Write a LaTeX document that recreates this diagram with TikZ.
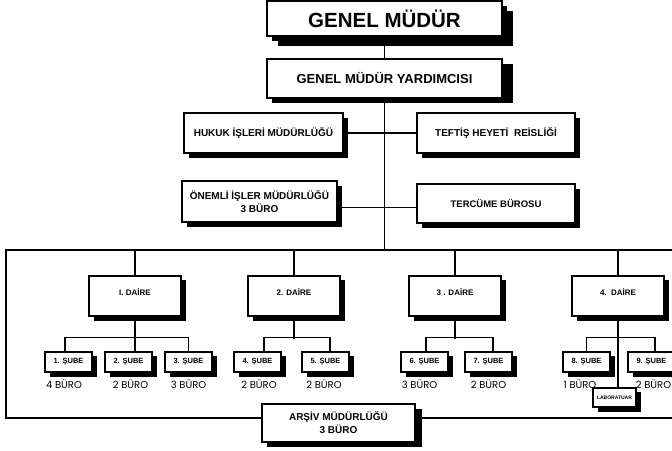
\documentclass[tikz,border=0pt]{standalone}
\usepackage{fontspec}
\setmainfont{Liberation Sans}
\newfontfamily\burofont{Poppins}
\usetikzlibrary{shadows,calc}
\pgfdeclarelayer{paper}
\pgfdeclarelayer{background}
\pgfsetlayers{paper,background,main}
\tikzset{
  orgbox/.style={draw, line width=1.1pt, fill=white, align=center, inner sep=0pt,
    font=\bfseries\fontsize{10}{13}\selectfont,
    drop shadow={shadow xshift=5pt, shadow yshift=-5pt, fill=black, opacity=1}},
  bigbox/.style={orgbox, minimum width=235pt},
  midbox/.style={orgbox, minimum height=40pt},
  dairebox/.style={orgbox, minimum width=92pt, minimum height=40pt,
    drop shadow={shadow xshift=5pt, shadow yshift=-4pt, fill=black, opacity=1}},
  subebox/.style={orgbox, minimum width=47pt, minimum height=20pt,
    font=\bfseries\fontsize{7.5}{9}\selectfont,
    drop shadow={shadow xshift=5pt, shadow yshift=-4pt, fill=black, opacity=1}},
  dairetxt/.style={font=\bfseries\fontsize{8}{9}\selectfont, inner sep=0pt},
  burolbl/.style={font=\burofont\fontsize{10}{11}\selectfont, inner sep=0pt},
  conn/.style={line width=1.1pt},
  frameline/.style={line width=1.2pt},
}
\begin{document}
\begin{tikzpicture}[x=1pt, y=-1pt]
\begin{pgfonlayer}{paper}
\fill[white] (0,0) rectangle (672,450);
\end{pgfonlayer}
\useasboundingbox (0,0) rectangle (672,450);

% top
\node[bigbox, minimum height=35pt, font=\bfseries\fontsize{20.5}{24}\selectfont,
  drop shadow={shadow xshift=11pt, shadow yshift=-10pt, fill=black, opacity=1}]
  (gm) at (384.5,18.5) {GENEL MÜDÜR};
\node[bigbox, minimum height=39pt, font=\bfseries\fontsize{13}{15}\selectfont,
  drop shadow={shadow xshift=11pt, shadow yshift=-5pt, fill=black, opacity=1}]
  (gmy) at (384.5,78.5) {GENEL MÜDÜR YARDIMCISI};

\node[midbox, minimum width=159pt] (hukuk) at (263.5,133) {HUKUK İŞLERİ MÜDÜRLÜĞÜ};
\node[midbox, minimum width=158pt] (teftis) at (496,133) {TEFTİŞ HEYETİ\ \ REİSLİĞİ};
\node[midbox, minimum width=155pt, minimum height=41pt] (onemli) at (259.5,201.5) {ÖNEMLİ İŞLER MÜDÜRLÜĞÜ\\3 BÜRO};
\node[midbox, minimum width=158pt, minimum height=39pt, font=\bfseries\fontsize{9.5}{12}\selectfont] (tercume) at (496,203.5) {TERCÜME BÜROSU};

% daire
\node[dairebox] (d1) at (135,296) {};
\node[dairebox] (d2) at (294,296) {};
\node[dairebox] (d3) at (455,296) {};
\node[dairebox] (d4) at (618,296) {};
\node[dairetxt] (d1t) at ([yshift=4pt]d1.center) {I. DAİRE};
\node[dairetxt] (d2t) at ([yshift=4pt]d2.center) {2. DAİRE};
\node[dairetxt] (d3t) at ([yshift=4pt]d3.center) {3 . DAİRE};
\node[dairetxt] (d4t) at ([yshift=4pt]d4.center) {4.\ \ DAİRE};

% sube
\node[subebox] (s1) at (68.5,362) {1. ŞUBE};
\node[subebox] (s2) at (128.5,362) {2. ŞUBE};
\node[subebox] (s3) at (188.5,362) {3. ŞUBE};
\node[subebox] (s4) at (257.5,362) {4. ŞUBE};
\node[subebox] (s5) at (325.5,362) {5. ŞUBE};
\node[subebox] (s6) at (424.5,362) {6. ŞUBE};
\node[subebox] (s7) at (488.5,362) {7. ŞUBE};
\node[subebox] (s8) at (586.5,362) {8. ŞUBE};
\node[subebox] (s9) at (651.5,362) {9. ŞUBE};

\node[burolbl] (b1) at (64,384) {4 BÜRO};
\node[burolbl] (b2) at (130.5,384) {2 BÜRO};
\node[burolbl] (b3) at (188.5,384) {3 BÜRO};
\node[burolbl] (b4) at (259,384) {2 BÜRO};
\node[burolbl] (b5) at (324,384) {2 BÜRO};
\node[burolbl] (b6) at (419.5,384) {3 BÜRO};
\node[burolbl] (b7) at (488.5,384) {2 BÜRO};
\node[burolbl] (b8) at (580,384) {1 BÜRO};
\node[burolbl] (b9) at (653.5,384) {2 BÜRO};

\node[orgbox, minimum width=43pt, minimum height=19pt, font=\bfseries\fontsize{5}{6}\selectfont,
  drop shadow={shadow xshift=5pt, shadow yshift=-4pt, fill=black, opacity=1}]
  (lab) at (614.5,397.5) {LABORATUAR};

\node[orgbox, minimum width=153pt, minimum height=38pt,
  drop shadow={shadow xshift=7pt, shadow yshift=-5pt, fill=black, opacity=1}]
  (arsiv) at (338.5,423) {ARŞİV MÜDÜRLÜĞÜ\\3 BÜRO};

% frame coordinates
\coordinate (ftl) at (6,250);
\coordinate (ftr) at (672,250);
\coordinate (fbl) at (6,418);
\coordinate (fbr) at (672,418);

\begin{pgfonlayer}{background}
\draw[frameline] (ftr) -- (ftl) -- (fbl) -- (fbl -| arsiv.west);
\draw[frameline] (fbl -| arsiv.east) -- (fbr);
\draw[conn] (gm) -- (gmy);
\draw[conn] (gmy.south) -- (gmy.south |- ftl);
\draw[conn] (hukuk.east) -- (teftis.west);
\draw[conn] ([yshift=-6pt]onemli.east) -- ([yshift=-6pt]onemli.east -| tercume.west);
\foreach \d in {d1,d2,d3,d4} {\draw[conn] (\d.north |- ftl) -- (\d.north);}
\draw[conn] (d1.south) -- (d1.south |- s2.north);
\draw[conn] ([xshift=-3.5pt]s1.north) -- ++(0,-14) -| (s3.north);
\draw[conn] (d2.south) -- ++(0,22);
\draw[conn] ([xshift=6.5pt]s4.north) -- ++(0,-14) -| ([xshift=4.5pt]s5.north);
\draw[conn] (d3.south) -- ++(0,22);
\draw[conn] ([xshift=1.5pt]s6.north) -- ++(0,-14) -| ([xshift=4.5pt]s7.north);
\draw[conn] (d4.south) -- (d4.south |- lab.north);
\draw[conn] (s8.north) -- ++(0,-14) -| ([xshift=3.5pt]s9.north);
\end{pgfonlayer}
\end{tikzpicture}
\end{document}
